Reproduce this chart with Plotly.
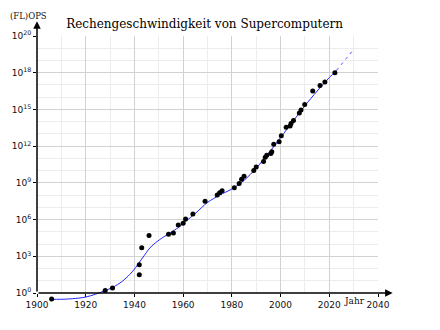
import plotly.graph_objects as go

# Data points: year, log10(FLOPS)
point_years = [1906, 1928, 1931, 1942, 1942, 1943, 1946, 1954, 1956, 1958, 1960, 1961, 1964,
               1969, 1974, 1975, 1976, 1981, 1983, 1984, 1985, 1989, 1990, 1993, 1993.7, 1994.3,
               1996, 1996.4, 1997.2, 1999.4, 2000.3, 2002.3, 2003.9, 2004.3, 2005.3, 2007.7,
               2008.4, 2009.9, 2013.2, 2016.2, 2018.2, 2022.3]
point_exp = [-0.5, 0.2, 0.4, 1.5, 2.3, 3.7, 4.7, 4.8, 4.9, 5.55, 5.7, 6.05, 6.45,
             7.5, 8.0, 8.2, 8.35, 8.6, 8.95, 9.3, 9.55, 10.0, 10.3, 10.75, 11.1, 11.25,
             11.4, 11.55, 12.15, 12.35, 12.85, 13.55, 13.65, 13.85, 14.1, 14.7,
             14.95, 15.4, 16.5, 16.95, 17.25, 18.0]

# Fitted trend curve
curve_years = [1906, 1912, 1917, 1920, 1924, 1928, 1931, 1935, 1938, 1940, 1942, 1944, 1946,
               1948, 1951, 1955, 1958, 1961, 1965, 1970, 1975, 1980, 1985, 1990, 1995,
               2000, 2005, 2010, 2015, 2020, 2023]
curve_exp = [-0.52, -0.5, -0.42, -0.33, -0.1, 0.2, 0.45, 0.95, 1.5, 1.95, 2.5, 3.05, 3.6,
             4.0, 4.45, 4.95, 5.35, 5.85, 6.5, 7.4, 8.0, 8.5, 9.2, 10.2, 11.4,
             12.7, 14.0, 15.3, 16.5, 17.6, 18.2]
proj_years = [2023, 2030]
proj_exp = [18.2, 19.9]

x_ticks = [1900, 1920, 1940, 1960, 1980, 2000, 2020, 2040]
y_ticks = [0, 3, 6, 9, 12, 15, 18, 21]
y_ticktext = ["10<sup>0</sup>", "10<sup>3</sup>", "10<sup>6</sup>", "10<sup>9</sup>",
              "10<sup>12</sup>", "10<sup>15</sup>", "10<sup>18</sup>", "10<sup>20</sup>"]

fig = go.Figure()
# invisible trace to create grid subplot
fig.add_trace(go.Scatter(x=[1900], y=[0], mode="markers", marker=dict(opacity=0),
                         xaxis="x", yaxis="y", hoverinfo="skip", showlegend=False))
fig.add_trace(go.Scatter(x=curve_years, y=curve_exp, mode="lines",
                         line=dict(color="#2222ff", width=1, shape="spline", smoothing=0.8),
                         xaxis="x2", yaxis="y2", showlegend=False))
fig.add_trace(go.Scatter(x=proj_years, y=proj_exp, mode="lines", line=dict(color="#5555ff", width=1, dash="3px,4px"),
                         xaxis="x2", yaxis="y2", showlegend=False))
fig.add_trace(go.Scatter(x=point_years, y=point_exp, mode="markers", marker=dict(color="black", size=5),
                         cliponaxis=False, xaxis="x2", yaxis="y2", showlegend=False))

H = 274.0
ybottom_frac = (310 - 293) / H
yr_low = 21 - H / (257 / 21)

tickfont = dict(family="DejaVu Sans", size=9, color="#111")
fig.update_layout(
    width=440, height=330,
    margin=dict(l=37, r=62, t=36, b=20, autoexpand=False),
    paper_bgcolor="white", plot_bgcolor="rgba(0,0,0,0)",
    title=dict(text="Rechengeschwindigkeit von Supercomputern", x=0.465, xanchor="center",
               y=(330 - 24) / 330, yanchor="middle", font=dict(family="DejaVu Serif", size=12, color="#000"),
               automargin=False),
    xaxis=dict(domain=[0, 1], range=[1900, 2040], tickvals=x_ticks, ticks="outside", ticklen=3,
               tickcolor="black", tickfont=tickfont, showgrid=True, gridcolor="#d2d2d2", gridwidth=1,
               minor=dict(dtick=10, tick0=1900, showgrid=True, gridcolor="#ececec"),
               zeroline=False, showline=False, fixedrange=True, automargin=False),
    yaxis=dict(domain=[ybottom_frac, 1], range=[0, 21], tickvals=y_ticks, ticktext=y_ticktext,
               ticks="outside", ticklen=3, tickcolor="black", tickfont=tickfont,
               showgrid=True, gridcolor="#d2d2d2",
               minor=dict(dtick=1, tick0=0, showgrid=True, gridcolor="#ececec"),
               zeroline=False, showline=False, fixedrange=True, automargin=False),
    xaxis2=dict(domain=[0, 1], range=[1900, 2040], visible=False, anchor="y2", automargin=False),
    yaxis2=dict(domain=[0, 1], range=[yr_low, 21], visible=False, anchor="x2", automargin=False),
    annotations=[
        dict(xref="x", yref="y", x=2046, y=0, axref="x", ayref="y", ax=1900, ay=0, text="",
             showarrow=True, arrowhead=2, arrowsize=1, arrowwidth=1.5, arrowcolor="black"),
        dict(xref="x", yref="y", x=1900, y=22.2, axref="x", ayref="y", ax=1900, ay=0, text="",
             showarrow=True, arrowhead=2, arrowsize=1, arrowwidth=1.5, arrowcolor="black"),
        dict(xref="paper", yref="paper", x=(354 - 37) / 341, y=(310 - 301) / H, text="Jahr",
             showarrow=False, font=dict(family="DejaVu Serif", size=9, color="#111"),
             xanchor="center", yanchor="middle"),
        dict(xref="paper", yref="paper", x=(28 - 37) / 341, y=(310 - 16) / H, text="(FL)OPS",
             showarrow=False, font=dict(family="DejaVu Serif", size=8.5, color="#111"),
             xanchor="center", yanchor="middle"),
    ],
)

fig.write_html("out.html", config={"displayModeBar": False},
               post_script="document.body.style.margin='0';document.body.style.overflow='hidden';")
